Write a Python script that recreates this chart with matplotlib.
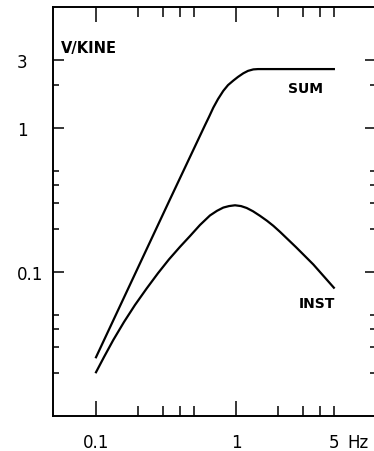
import matplotlib
matplotlib.use("Agg")
import matplotlib.pyplot as plt

# frequency (Hz) and response (V/kine)
sum_freq = [0.1, 0.338, 0.6005, 0.6413, 0.6885, 0.7436, 0.8114, 0.8767,
            0.9566, 1.0335, 1.1275, 1.218, 1.3292, 1.436, 5.0]
sum_val = [0.0256, 0.321, 1.049, 1.197, 1.389, 1.592, 1.817, 1.992,
           2.141, 2.271, 2.406, 2.501, 2.561, 2.574, 2.574]

inst_freq = [0.1, 0.1141, 0.1329, 0.1585, 0.1899, 0.2302, 0.2772, 0.3322,
             0.3981, 0.4693, 0.5531, 0.6519, 0.7315, 0.8114, 0.8913, 0.9837,
             1.0857, 1.1923, 1.3227, 1.4842, 1.6653, 1.8474, 2.0623, 2.6827,
             3.5657, 5.0]
inst_val = [0.02014, 0.0257, 0.03375, 0.04501, 0.0591, 0.077, 0.09824, 0.1226,
            0.1498, 0.178, 0.2125, 0.2475, 0.2665, 0.2807, 0.2875, 0.2912,
            0.2875, 0.2789, 0.2646, 0.246, 0.2272, 0.2097, 0.1904, 0.149,
            0.113, 0.0779]

x_major = [0.1, 1]
x_major_labels = ["0.1", "1"]
x_minor = [0.2, 0.3, 0.4, 0.5, 2, 3, 4, 5]
x_minor_labels = ["", "", "", "", "", "", "", "5"]

y_major = [0.1, 1, 3]
y_major_labels = ["0.1", "1", "3"]
y_minor = [0.02, 0.03, 0.04, 0.05, 0.2, 0.3, 0.4, 0.5, 2]


def plot():
    fig = plt.figure(figsize=(3.74, 4.52), dpi=100)
    ax = fig.add_axes([53 / 374, 35 / 452, 323 / 374, 409 / 452])

    ax.plot(sum_freq, sum_val, color="black", linewidth=1.6)
    ax.plot(inst_freq, inst_val, color="black", linewidth=1.6)

    ax.set_xscale("log")
    ax.set_yscale("log")
    ax.set_xlim(0.0493, 10)
    ax.set_ylim(0.01, 6.95)

    ax.set_xticks(x_major, labels=x_major_labels)
    ax.set_xticks(x_minor, labels=x_minor_labels, minor=True)
    ax.set_yticks(y_major, labels=y_major_labels)
    ax.set_yticks(y_minor, labels=[""] * len(y_minor), minor=True)

    ax.tick_params(axis="both", which="both", direction="in", top=True,
                   right=True, width=1.1, labelsize=12)
    ax.tick_params(axis="x", which="major", length=11, pad=12)
    ax.tick_params(axis="x", which="minor", length=7, pad=12)
    ax.tick_params(axis="y", which="major", length=8, pad=26)
    ax.tick_params(axis="y", which="minor", length=4.5, pad=26)
    for lab in ax.get_yticklabels():
        lab.set_horizontalalignment("left")

    for sp in ax.spines.values():
        sp.set_linewidth(1.4)
    # right frame edge falls just outside the picture
    ax.spines["right"].set_visible(False)

    ax.annotate("Hz", xy=(5, 0), xycoords=ax.get_xaxis_transform(),
                xytext=(10, -12), textcoords="offset points",
                ha="left", va="top", fontsize=12)

    ax.text(8 / 323, 369 / 409, "V/KINE", transform=ax.transAxes,
            ha="left", va="center", fontsize=10.5, fontweight="bold")
    ax.text(3.135, 1.898, "SUM", ha="center", va="center", fontsize=10,
            fontweight="bold")
    ax.text(3.758, 0.0606, "INST", ha="center", va="center", fontsize=10,
            fontweight="bold")

    fig.savefig("out.png", dpi=100)


if __name__ == "__main__":
    plot()
